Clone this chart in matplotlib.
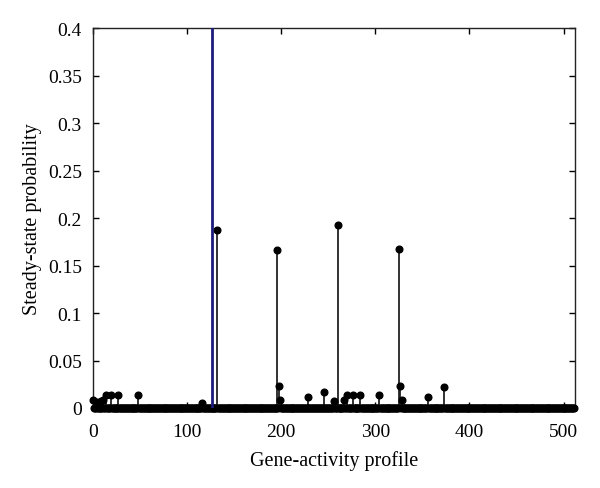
import numpy as np
import matplotlib
matplotlib.use("Agg")
import matplotlib.pyplot as plt

# steady-state distribution over 512 gene-activity profiles (0..511)
n_states = 512
peak_state = 126          # drawn in blue, runs off the top of the axes
peak_value = 0.55
states = [0, 4, 8, 11, 14, 19, 27, 48, 116, 132, 196, 198, 199, 229, 245,
          256, 260, 267, 270, 276, 284, 304, 325, 326, 328, 356, 373]
probs = [0.0088, 0.006, 0.007, 0.0088, 0.014, 0.014, 0.014, 0.014, 0.005,
         0.187, 0.166, 0.0235, 0.0082, 0.0119, 0.0165, 0.0077, 0.193, 0.0084,
         0.0137, 0.014, 0.014, 0.014, 0.167, 0.0229, 0.0084, 0.0113, 0.0218]
yticks = [0, 0.05, 0.1, 0.15, 0.2, 0.25, 0.3, 0.35, 0.4]
ytick_labels = ['0', '0.05', '0.1', '0.15', '0.2', '0.25', '0.3', '0.35', '0.4']
xticks = [0, 100, 200, 300, 400, 500]

plt.rcParams['font.family'] = ['Liberation Serif', 'DejaVu Serif']

p = np.zeros(n_states)
p[states] = probs

fig = plt.figure(figsize=(6, 4.89), dpi=100)
ax = fig.add_axes([0.155, 0.1636, 0.803, 0.777])

x = np.arange(n_states)
nz = p > 0
ax.vlines(x[nz], 0, p[nz], color='#222222', lw=1.3, zorder=2)
ax.plot(x, p, 'o', color='black', ms=4.8, zorder=3, clip_on=False)
ax.vlines(peak_state, 0, peak_value, color='#1c1c7a', lw=2, zorder=4)

ax.set_xlim(0, 512)
ax.set_ylim(0, 0.4)
ax.set_xticks(xticks)
ax.set_yticks(yticks)
ax.set_yticklabels(ytick_labels)
ax.tick_params(direction='in', top=True, right=True, length=4, width=1,
               labelsize=14)
ax.tick_params(axis='x', pad=11)
ax.tick_params(axis='y', pad=8)
for s in ax.spines.values():
    s.set_linewidth(1)
    s.set_color('#222222')

ax.set_xlabel('Gene-activity profile', fontsize=14.5, labelpad=7)
ax.set_ylabel('Steady-state probability', fontsize=14.5, labelpad=4)

fig.savefig('out.png', dpi=100)
